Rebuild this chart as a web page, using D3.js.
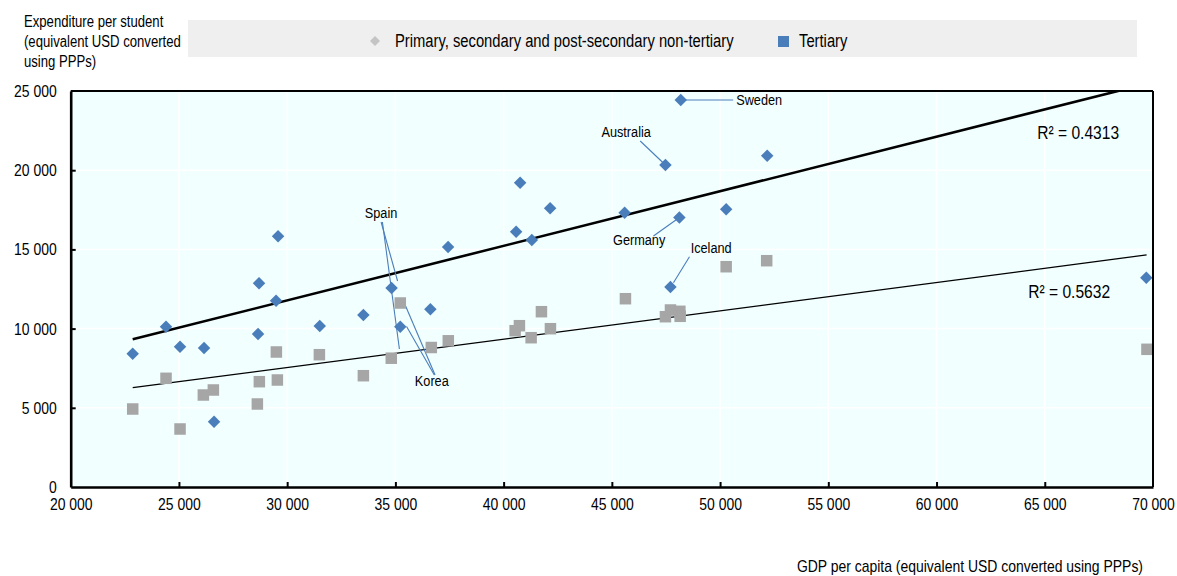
<!DOCTYPE html>
<html>
<head>
<meta charset="utf-8">
<script src="https://cdn.jsdelivr.net/npm/d3@7"></script>
<style>
  html, body { margin: 0; padding: 0; background: #fff; }
  svg { display: block; }
  text { font-family: "Liberation Sans", Arial, sans-serif; fill: #000; }
</style>
</head>
<body>
<svg id="chart" width="1177" height="576"></svg>
<script>
// ---------------- DATA ----------------
const xTicks = [20000, 25000, 30000, 35000, 40000, 45000, 50000, 55000, 60000, 65000, 70000];
const yTicks = [0, 5000, 10000, 15000, 20000, 25000];

const legendLabels = ["Primary, secondary and post-secondary non-tertiary", "Tertiary"];
const yTitleLines = ["Expenditure per student", "(equivalent USD converted", "using PPPs)"];
const xTitle = "GDP per capita (equivalent USD converted using PPPs)";

// Tertiary (blue diamonds): [GDP per capita, expenditure per student]
const tertiary = [
  [22865, 8415], [24404, 10120], [25051, 8857], [26160, 8775], [26622, 4122],
  [28701, 12860], [28655, 9659], [29487, 11761], [29579, 15827], [31506, 10164],
  [33521, 10858], [34824, 12563], [35226, 10120], [36617, 11225], [37435, 15151],
  [40577, 16117], [40762, 19210], [41303, 15593], [42149, 17594], [45591, 17317],
  [47476, 20328], [48183, 24431], [48119, 17013], [47708, 12626], [50281, 17531],
  [52176, 20915], [69690, 13213]
];

// Primary, secondary and post-secondary non-tertiary (grey squares)
const primarySecondary = [
  [22865, 4924], [24404, 6862], [25051, 3662], [26128, 5808], [26590, 6124],
  [28623, 5240], [28715, 6648], [29501, 8523], [29547, 6755], [31488, 8352],
  [33521, 7026], [34810, 8131], [35226, 11616], [36659, 8807], [37444, 9230],
  [40531, 9867], [40730, 10183], [41271, 9425], [41747, 11067], [42163, 9993],
  [45628, 11887], [47476, 10751], [47708, 11174], [48142, 11092], [48156, 10776],
  [50281, 13907], [52153, 14286], [69721, 8693]
];

// Linear trend lines: [intercept, slope], drawn over the x range
const trendTertiary = [1449, 0.3444];
const trendPrimary = [2178, 0.1789];
const trendXRange = [22865, 69705];

const r2Labels = [
  { text: "R\u00B2 = 0.4313", x: 64653, y: 22367 },
  { text: "R\u00B2 = 0.5632", x: 64237, y: 12329 }
];

// Country annotations: label position + leader lines (data coordinates)
const annotations = [
  { label: "Sweden", tx: 50745, ty: 24431, anchor: "start", lines: [[[48183, 24431], [50606, 24431]]] },
  { label: "Australia", tx: 45661, ty: 22411, anchor: "middle", lines: [[[46311, 21843], [47476, 20328]]] },
  { label: "Spain", tx: 34339, ty: 17298, anchor: "middle", lines: [[[34340, 16729], [35101, 13005]], [[34400, 16729], [35185, 8712]]] },
  { label: "Korea", tx: 36682, ty: 6692, anchor: "middle", lines: [[[36834, 7071], [35471, 11427]], [[36800, 7071], [35517, 10133]]] },
  { label: "Germany", tx: 46261, ty: 15637, anchor: "middle", lines: [[[46922, 15845], [48119, 17013]]] },
  { label: "Iceland", tx: 49588, ty: 15132, anchor: "middle", lines: [[[48586, 14539], [47846, 12897]]] }
];

// ---------------- STYLE ----------------
const BLUE = "#4a7ebb";
const GREY = "#a6a6a6";
const PLOT_BG = "#f2ffff";
const NARROW = 0.82;

const svg = d3.select("#chart");
const pL = 70.7, pR = 1153, pT = 91, pB = 487;

const x = d3.scaleLinear().domain([20000, 70000]).range([pL, pR]);
const y = d3.scaleLinear().domain([0, 25000]).range([pB, pT]);

const fmt = d => d3.format(",")(d).replace(/,/g, " ");

// Plot background
svg.append("rect").attr("x", pL).attr("y", pT)
  .attr("width", pR - pL).attr("height", pB - pT).attr("fill", PLOT_BG);

// Gridlines
svg.append("g").selectAll("line").data(xTicks.slice(1, -1)).join("line")
  .attr("x1", d => x(d)).attr("x2", d => x(d)).attr("y1", pT).attr("y2", pB)
  .attr("stroke", "#fff").attr("stroke-width", 1.5);
svg.append("g").selectAll("line").data(yTicks.slice(1, -1)).join("line")
  .attr("x1", pL).attr("x2", pR).attr("y1", d => y(d)).attr("y2", d => y(d))
  .attr("stroke", "#fff").attr("stroke-width", 1.5);

// Clip for trend lines
svg.append("clipPath").attr("id", "plotclip").append("rect")
  .attr("x", pL).attr("y", pT).attr("width", pR - pL).attr("height", pB - pT);

// Trend lines
const line = d3.line().x(d => x(d[0])).y(d => y(d[1]));
function trendPts(t) { return trendXRange.map(v => [v, t[0] + t[1] * v]); }
svg.append("path").attr("d", line(trendPts(trendTertiary)))
  .attr("fill", "none").attr("stroke", "#000").attr("stroke-width", 2.6).attr("clip-path", "url(#plotclip)");
svg.append("path").attr("d", line(trendPts(trendPrimary)))
  .attr("fill", "none").attr("stroke", "#000").attr("stroke-width", 1.3).attr("clip-path", "url(#plotclip)");

// Annotation leader lines
const annG = svg.append("g");
annotations.forEach(a => {
  a.lines.forEach(l => {
    annG.append("path").attr("d", line(l)).attr("fill", "none")
      .attr("stroke", BLUE).attr("stroke-width", 1.1);
  });
});

// Grey squares
const sq = 11.5;
svg.append("g").selectAll("rect").data(primarySecondary).join("rect")
  .attr("x", d => x(d[0]) - sq / 2).attr("y", d => y(d[1]) - sq / 2)
  .attr("width", sq).attr("height", sq).attr("fill", GREY);

// Blue diamonds
svg.append("g").selectAll("path").data(tertiary).join("path")
  .attr("d", d3.symbol().type(d3.symbolSquare).size(78))
  .attr("transform", d => `translate(${x(d[0])},${y(d[1])}) rotate(45)`)
  .attr("fill", BLUE);

// Annotation labels
annotations.forEach(a => {
  annG.append("text").attr("x", x(a.tx)).attr("y", y(a.ty)).attr("dy", "0.35em")
    .attr("text-anchor", a.anchor).attr("font-size", 15.5).text(a.label);
});

// R² labels
svg.append("g").selectAll("text").data(r2Labels).join("text")
  .attr("x", d => x(d.x)).attr("y", d => y(d.y)).attr("dy", "0.35em")
  .attr("font-size", 19).text(d => d.text);

// Borders (top & right)
svg.append("line").attr("x1", pL).attr("x2", pR).attr("y1", pT).attr("y2", pT)
  .attr("stroke", "#000").attr("stroke-width", 2);
svg.append("line").attr("x1", pR).attr("x2", pR).attr("y1", pT).attr("y2", pB)
  .attr("stroke", "#000").attr("stroke-width", 2);

// Axes
const xAxis = d3.axisBottom(x).tickValues(xTicks).tickSize(-5).tickSizeOuter(0).tickPadding(11).tickFormat(fmt);
const yAxis = d3.axisLeft(y).tickValues(yTicks).tickSize(-5).tickSizeOuter(0).tickPadding(14).tickFormat(fmt);

const gx = svg.append("g").attr("transform", `translate(0,${pB})`).call(xAxis);
const gy = svg.append("g").attr("transform", `translate(${pL},0)`).call(yAxis);
[gx, gy].forEach(g => {
  g.attr("font-family", null);
  g.select(".domain").attr("stroke", "#000").attr("stroke-width", 2.6);
  g.selectAll(".tick line").attr("stroke", "#000").attr("stroke-width", 2);
  g.selectAll(".tick text").attr("font-size", 17).attr("fill", "#000");
});
gx.selectAll(".tick line").filter(d => d === 20000 || d === 70000).remove();
gy.selectAll(".tick line").filter(d => d === 0 || d === 25000).remove();

// Y-axis title
svg.append("g").selectAll("text").data(yTitleLines).join("text")
  .attr("x", 24).attr("y", (d, i) => 27 + i * 20).attr("font-size", 16).text(d => d);

// X-axis title
svg.append("text").attr("x", 1143).attr("y", 572).attr("text-anchor", "end")
  .attr("font-size", 17).text(xTitle);

// Legend
const lg = svg.append("g");
lg.append("rect").attr("x", 188).attr("y", 20).attr("width", 949).attr("height", 37).attr("fill", "#efefef");
lg.append("path").attr("d", d3.symbol().type(d3.symbolSquare).size(50))
  .attr("transform", "translate(375,41) rotate(45)").attr("fill", "#c4c4c4");
lg.append("text").attr("x", 395).attr("y", 41).attr("dy", "0.35em").attr("font-size", 18).text(legendLabels[0]);
lg.append("rect").attr("x", 778).attr("y", 36).attr("width", 11).attr("height", 11).attr("fill", BLUE);
lg.append("text").attr("x", 799).attr("y", 41).attr("dy", "0.35em").attr("font-size", 18).text(legendLabels[1]);

// Condense all text horizontally (narrow face look)
svg.selectAll("text").each(function () {
  const w = this.getComputedTextLength();
  this.setAttribute("textLength", (w * NARROW).toFixed(2));
  this.setAttribute("lengthAdjust", "spacingAndGlyphs");
});
</script>
</body>
</html>
